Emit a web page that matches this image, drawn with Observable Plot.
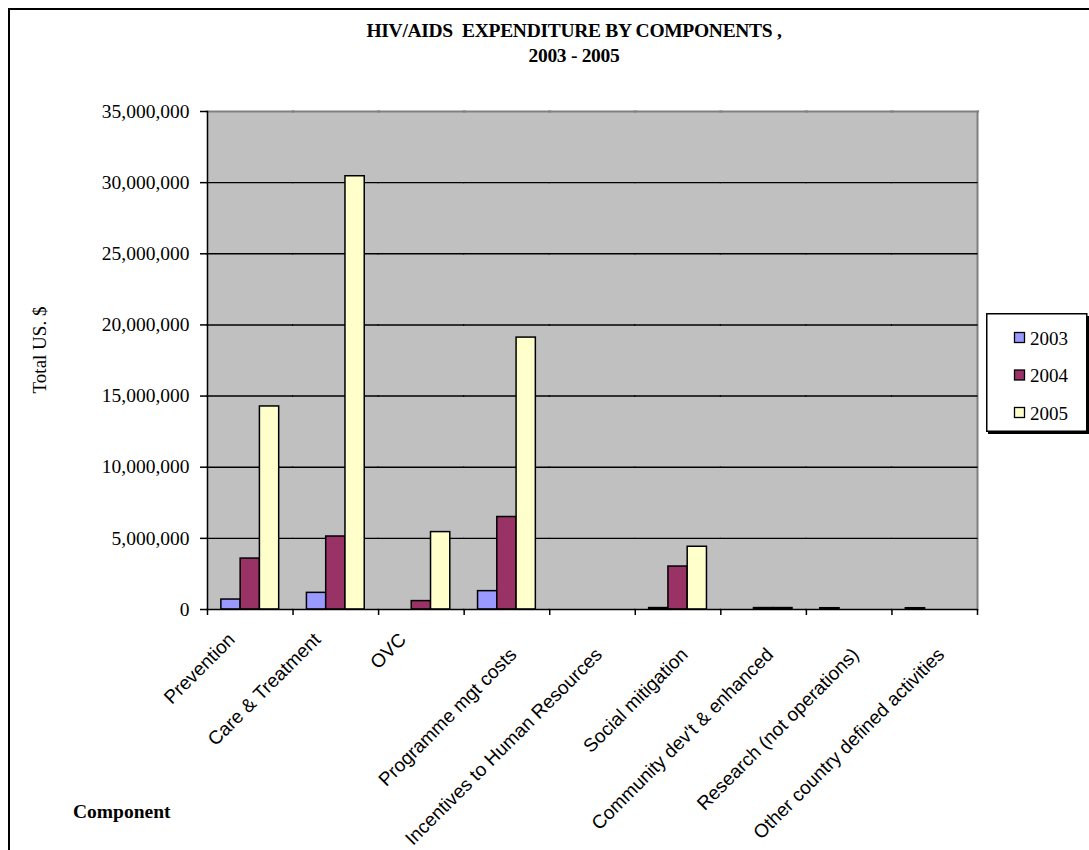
<!DOCTYPE html>
<html><head><meta charset="utf-8">
<script src="https://cdn.jsdelivr.net/npm/d3@7"></script>
<script src="https://cdn.jsdelivr.net/npm/@observablehq/plot@0.6"></script>
<style>
html,body{margin:0;padding:0;background:#fff;overflow:hidden;}
#wrap{position:relative;width:1089px;height:850px;overflow:hidden;background:#fff;}
#border{position:absolute;left:8px;top:8px;width:1300px;height:1100px;border:2px solid #000;box-sizing:border-box;}
#wrap svg{position:absolute;left:0;top:0;}
</style></head>
<body><div id="wrap"><div id="border"></div></div>
<script>
// ---- data ----
const components = ["Prevention","Care & Treatment","OVC","Programme mgt costs","Incentives to Human Resources","Social mitigation","Community dev't & enhanced","Research (not operations)","Other country defined activities"];
const years = ["2003","2004","2005"];
const values2003 = [700000, 1170000, 0, 1290000, 0, 100000, 0, 90000, 90000];
const values2004 = [3580000, 5130000, 590000, 6500000, 0, 3020000, 100000, 0, 0];
const values2005 = [14270000, 30450000, 5440000, 19110000, 0, 4410000, 100000, 0, 0];
const yTicks = [0, 5000000, 10000000, 15000000, 20000000, 25000000, 30000000, 35000000];
const colors = ["#9999ff", "#993366", "#ffffcc"];
const titleLines = ["HIV/AIDS  EXPENDITURE BY COMPONENTS ,", "2003 - 2005"];
const yLabel = "Total US. $";
const xLabel = "Component";

const series = [values2003, values2004, values2005];
const data = components.flatMap((c, i) => years.map((y, j) => ({component: c, year: y, value: series[j][i]})));

// ---- layout ----
const W = 1089, H = 850, mL = 207, mR = 112, mT = 111, mB = 241;
const step = (W - mL - mR) / components.length;
const serif = "'Liberation Serif','Times New Roman',serif";
const sans = "'Liberation Sans',Arial,sans-serif";
const labelStyle = {anchor: "bottom", tickSize: 0, tickRotate: -45, textAnchor: "end", lineAnchor: "middle", fontFamily: sans, fontSize: 19, label: null};

const chart = Plot.plot({
  width: W, height: H,
  marginLeft: mL, marginRight: mR, marginTop: mT, marginBottom: mB,
  style: {fontFamily: serif, fontSize: "19.5px", background: "transparent", color: "#000", overflow: "visible"},
  fx: {domain: components, padding: 0, round: false, label: null},
  x: {domain: years, paddingInner: 0, paddingOuter: 0.72, round: false, axis: null},
  y: {domain: [0, 35000000]},
  color: {domain: years, range: colors},
  marks: [
    Plot.frame({fill: "#c0c0c0", stroke: null, insetLeft: -0.6, insetRight: -0.6}),
    Plot.frame({anchor: "top", stroke: "#808080", strokeWidth: 2, insetLeft: -0.6, insetRight: -0.6}),
    Plot.frame({anchor: "right", stroke: "#808080", strokeWidth: 2, facetAnchor: "right"}),
    Plot.gridY(yTicks.slice(1, -1), {stroke: "#000", strokeOpacity: 1, strokeWidth: 1.4, insetLeft: -0.6, insetRight: -0.6}),
    Plot.barY(data, {fx: "component", x: "year", y: "value", fill: "year", stroke: "#000", strokeWidth: 1.5}),
    Plot.ruleY([0], {stroke: "#000", strokeWidth: 1.5, insetLeft: -0.6, insetRight: -0.6}),
    Plot.frame({anchor: "left", stroke: "#000", strokeWidth: 1.5, facetAnchor: "left"}),
    Plot.axisY({ticks: yTicks, tickSize: 7, tickPadding: 11, tickFormat: d3.format(","), label: null, strokeWidth: 1.5}),
    Plot.axisFx({anchor: "bottom", tickSize: 6, fill: "none", dx: -step / 2, label: null, strokeWidth: 1.5}),
    Plot.axisFx({anchor: "bottom", ticks: [components[components.length - 1]], tickSize: 6, fill: "none", dx: step / 2, label: null, strokeWidth: 1.5}),
    Plot.axisFx({...labelStyle, ticks: components.slice(0, 3), tickPadding: 27, dx: -18.5}),
    Plot.axisFx({...labelStyle, ticks: components.slice(3), tickPadding: 42, dx: 6.5})
  ]
});
document.getElementById("wrap").appendChild(chart);

// ---- overlay texts and legend ----
const ov = d3.select("#wrap").append("svg").attr("width", W).attr("height", H).style("overflow", "visible");
ov.selectAll("text.title").data(titleLines).join("text")
  .attr("x", 574).attr("y", (d, i) => i === 0 ? 36.7 : 62.3)
  .attr("text-anchor", "middle").attr("font-family", serif).attr("font-weight", "bold").attr("font-size", 19.5)
  .attr("letter-spacing", -0.3)
  .style("white-space", "pre").attr("xml:space", "preserve").text(d => d);
ov.append("text").attr("transform", "translate(46,350) rotate(-90)").attr("text-anchor", "middle")
  .attr("font-family", serif).attr("font-size", 19).text(yLabel);
ov.append("text").attr("x", 73).attr("y", 818).attr("font-family", serif).attr("font-weight", "bold").attr("font-size", 19.5).text(xLabel);

const lg = ov.append("g");
lg.append("rect").attr("x", 988).attr("y", 316).attr("width", 101).attr("height", 118).attr("fill", "#000");
lg.append("rect").attr("x", 986.75).attr("y", 313.75).attr("width", 100).attr("height", 117.5).attr("fill", "#fff").attr("stroke", "#000").attr("stroke-width", 1.5);
const rows = lg.selectAll("g.row").data(years).join("g").attr("transform", (d, i) => `translate(0,${338 + i * 37.5})`);
rows.append("rect").attr("x", 1014.5).attr("y", -5.5).attr("width", 10).attr("height", 10)
  .attr("fill", (d, i) => colors[i]).attr("stroke", "#000").attr("stroke-width", 1.3);
rows.append("text").attr("x", 1030).attr("y", 6.5).attr("font-family", serif).attr("font-size", 19).text(d => d);
</script>
</body></html>
